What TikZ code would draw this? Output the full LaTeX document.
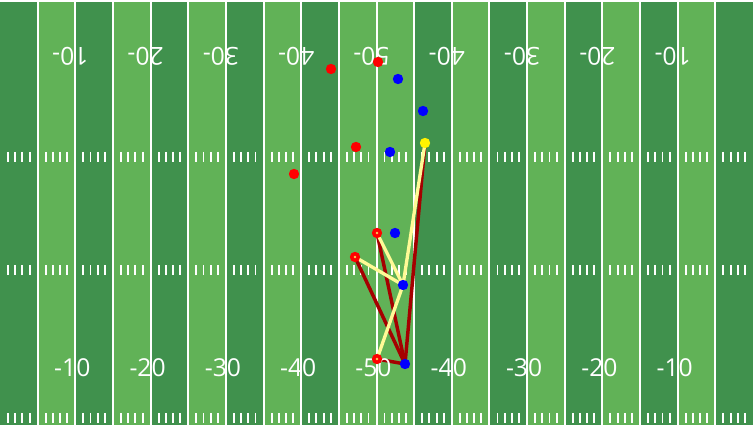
\documentclass[tikz,border=0pt]{standalone}
\usepackage{fontspec}
\setsansfont{Open Sans}
\usetikzlibrary{backgrounds}

\definecolor{fielddark}{RGB}{64,145,77}
\definecolor{fieldlight}{RGB}{97,178,87}
\definecolor{routered}{RGB}{165,0,0}
\definecolor{passyellow}{RGB}{255,250,150}

\begin{document}
\begin{tikzpicture}[x=0.75pt, y=-0.75pt,
  yardline/.style={draw=white, line width=1.5pt},
  hash/.style={draw=white, line width=1.4pt},
  yardnum/.style={text=white, font=\sffamily\fontsize{18.5}{18.5}\selectfont, inner sep=0pt},
  player/.style={circle, inner sep=0pt, minimum size=7.8pt},
  redp/.style={player, fill=red},
  bluep/.style={player, fill=blue},
  qbp/.style={player, fill=yellow},
  recvp/.style={player, fill=red, path picture={\fill[passyellow!60!orange] (path picture bounding box.center) circle (1.1pt);}},
  runline/.style={draw=routered, line width=2.6pt, line cap=round},
  passline/.style={draw=passyellow, line width=2.5pt, line cap=round},
]
\useasboundingbox (0,0) rectangle (753,427);

% === FIELD ===
\begin{scope}[on background layer]
\fill[fielddark] (0,0) rectangle (753,427);
\foreach \i in {1,3,5,7,9,10,12,14,16,18}
  \fill[fieldlight] (\i*37.65,0) rectangle ({(\i+1)*37.65},427);
\foreach \i in {1,...,19}
  \draw[yardline] (\i*37.65,0) -- (\i*37.65,427);
\draw[yardline] (0,1) -- (753,1);
\draw[yardline] (0,426) -- (753,426);
\foreach \i in {0,...,19}
  \foreach \d in {-10.8,-3.6,3.6,10.8}
    \foreach \y in {157,270.5,418}
      \draw[hash] ({(\i+0.5)*37.65+\d},\y-5) -- ++(0,10);
\end{scope}

% yard numbers
\foreach \i/\n in {2/10,4/20,6/30,8/40,10/50,12/40,14/30,16/20,18/10} {
  \node[yardnum] (numb\i) at (\i*37.65-3, 368) {-\n};
  \node[yardnum, rotate=180] (numt\i) at (\i*37.65-5, 56) {\n-};
}

% === PLAYERS ===
\node[redp] (def1) at (331,69) {};
\node[redp] (def2) at (378,62) {};
\node[redp] (def3) at (356,147) {};
\node[redp] (def4) at (294,174) {};

\node[bluep] (off1) at (398,79) {};
\node[bluep] (off2) at (423,111) {};
\node[bluep] (off3) at (390,152) {};
\node[bluep] (off4) at (395,233) {};
\node[bluep] (off5) at (403,285) {};
\node[bluep] (off6) at (405,364) {};

\node[qbp] (qb) at (425,143) {};

\node[recvp] (rec1) at (377,233) {};
\node[recvp] (rec2) at (355,257) {};
\node[recvp] (rec3) at (377,359) {};

% === ROUTES ===
\begin{scope}[on background layer]
\draw[runline] (off6.center) -- (qb.center);
\draw[runline] (off6.center) -- (rec1.center);
\draw[runline] (off6.center) -- (rec2.center);
\draw[runline] (off6.center) -- (rec3.center);

\draw[passline] (qb.center) -- (off5.center);
\draw[passline] (off5.center) -- (rec1.center);
\draw[passline] (off5.center) -- (rec2.center);
\draw[passline] (off5.center) -- (rec3.center);
\end{scope}
\end{tikzpicture}
\end{document}
